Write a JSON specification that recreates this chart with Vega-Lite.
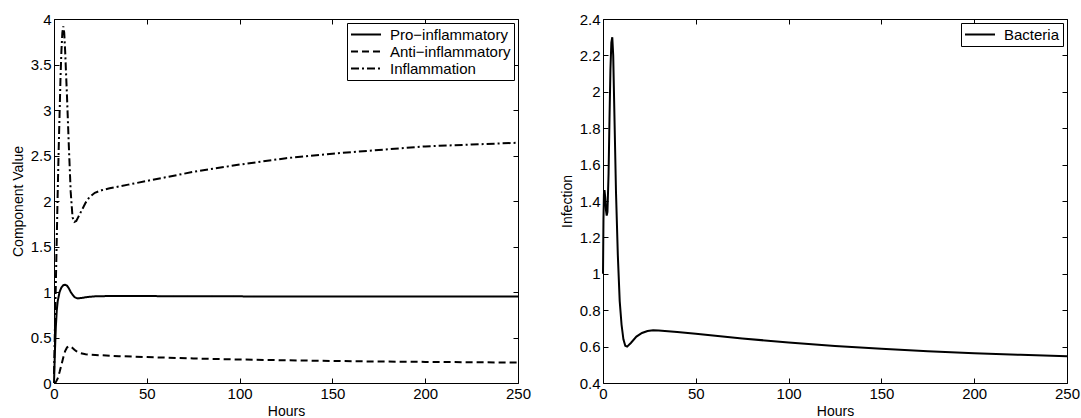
{
  "$schema": "https://vega.github.io/schema/vega-lite/v6.json",
  "padding": {"left": 10, "top": 11, "right": 5, "bottom": 0},
  "background": "white",
  "spacing": 85,
  "bounds": "flush",
  "datasets": {
    "left": [
      {"t": 0, "v": 0, "s": "Pro−inflammatory"}, {"t": 0.5, "v": 0.35, "s": "Pro−inflammatory"}, {"t": 1, "v": 0.62, "s": "Pro−inflammatory"}, {"t": 1.5, "v": 0.8, "s": "Pro−inflammatory"}, {"t": 2, "v": 0.9, "s": "Pro−inflammatory"}, {"t": 3, "v": 1.0, "s": "Pro−inflammatory"}, {"t": 4, "v": 1.05, "s": "Pro−inflammatory"}, {"t": 5, "v": 1.075, "s": "Pro−inflammatory"}, {"t": 6, "v": 1.08, "s": "Pro−inflammatory"}, {"t": 7, "v": 1.07, "s": "Pro−inflammatory"}, {"t": 8, "v": 1.04, "s": "Pro−inflammatory"}, {"t": 9, "v": 1.0, "s": "Pro−inflammatory"}, {"t": 10, "v": 0.97, "s": "Pro−inflammatory"}, {"t": 11, "v": 0.945, "s": "Pro−inflammatory"}, {"t": 12, "v": 0.935, "s": "Pro−inflammatory"}, {"t": 13, "v": 0.93, "s": "Pro−inflammatory"}, {"t": 15, "v": 0.935, "s": "Pro−inflammatory"}, {"t": 18, "v": 0.945, "s": "Pro−inflammatory"}, {"t": 22, "v": 0.952, "s": "Pro−inflammatory"}, {"t": 30, "v": 0.956, "s": "Pro−inflammatory"}, {"t": 50, "v": 0.955, "s": "Pro−inflammatory"}, {"t": 100, "v": 0.952, "s": "Pro−inflammatory"}, {"t": 150, "v": 0.95, "s": "Pro−inflammatory"}, {"t": 200, "v": 0.95, "s": "Pro−inflammatory"}, {"t": 250, "v": 0.95, "s": "Pro−inflammatory"},
      {"t": 0, "v": 0, "s": "Anti−inflammatory"}, {"t": 1, "v": 0.01, "s": "Anti−inflammatory"}, {"t": 2, "v": 0.05, "s": "Anti−inflammatory"}, {"t": 3, "v": 0.12, "s": "Anti−inflammatory"}, {"t": 4, "v": 0.2, "s": "Anti−inflammatory"}, {"t": 5, "v": 0.28, "s": "Anti−inflammatory"}, {"t": 6, "v": 0.35, "s": "Anti−inflammatory"}, {"t": 7, "v": 0.39, "s": "Anti−inflammatory"}, {"t": 8, "v": 0.405, "s": "Anti−inflammatory"}, {"t": 9, "v": 0.4, "s": "Anti−inflammatory"}, {"t": 10, "v": 0.385, "s": "Anti−inflammatory"}, {"t": 11, "v": 0.365, "s": "Anti−inflammatory"}, {"t": 12, "v": 0.35, "s": "Anti−inflammatory"}, {"t": 14, "v": 0.33, "s": "Anti−inflammatory"}, {"t": 17, "v": 0.315, "s": "Anti−inflammatory"}, {"t": 20, "v": 0.31, "s": "Anti−inflammatory"}, {"t": 25, "v": 0.305, "s": "Anti−inflammatory"}, {"t": 35, "v": 0.295, "s": "Anti−inflammatory"}, {"t": 50, "v": 0.285, "s": "Anti−inflammatory"}, {"t": 75, "v": 0.27, "s": "Anti−inflammatory"}, {"t": 100, "v": 0.258, "s": "Anti−inflammatory"}, {"t": 125, "v": 0.25, "s": "Anti−inflammatory"}, {"t": 150, "v": 0.242, "s": "Anti−inflammatory"}, {"t": 175, "v": 0.236, "s": "Anti−inflammatory"}, {"t": 200, "v": 0.232, "s": "Anti−inflammatory"}, {"t": 225, "v": 0.228, "s": "Anti−inflammatory"}, {"t": 250, "v": 0.225, "s": "Anti−inflammatory"},
      {"t": 0, "v": 0.1, "s": "Inflammation"}, {"t": 0.5, "v": 0.6, "s": "Inflammation"}, {"t": 1, "v": 1.1, "s": "Inflammation"}, {"t": 1.5, "v": 1.6, "s": "Inflammation"}, {"t": 2, "v": 2.1, "s": "Inflammation"}, {"t": 2.5, "v": 2.55, "s": "Inflammation"}, {"t": 3, "v": 2.95, "s": "Inflammation"}, {"t": 3.5, "v": 3.35, "s": "Inflammation"}, {"t": 4, "v": 3.65, "s": "Inflammation"}, {"t": 4.5, "v": 3.85, "s": "Inflammation"}, {"t": 5, "v": 3.92, "s": "Inflammation"}, {"t": 5.5, "v": 3.85, "s": "Inflammation"}, {"t": 6, "v": 3.65, "s": "Inflammation"}, {"t": 7, "v": 3.15, "s": "Inflammation"}, {"t": 8, "v": 2.6, "s": "Inflammation"}, {"t": 9, "v": 2.1, "s": "Inflammation"}, {"t": 10, "v": 1.82, "s": "Inflammation"}, {"t": 11, "v": 1.77, "s": "Inflammation"}, {"t": 12, "v": 1.78, "s": "Inflammation"}, {"t": 13, "v": 1.82, "s": "Inflammation"}, {"t": 15, "v": 1.9, "s": "Inflammation"}, {"t": 17, "v": 1.98, "s": "Inflammation"}, {"t": 19, "v": 2.04, "s": "Inflammation"}, {"t": 22, "v": 2.09, "s": "Inflammation"}, {"t": 26, "v": 2.12, "s": "Inflammation"}, {"t": 30, "v": 2.14, "s": "Inflammation"}, {"t": 40, "v": 2.18, "s": "Inflammation"}, {"t": 50, "v": 2.22, "s": "Inflammation"}, {"t": 60, "v": 2.26, "s": "Inflammation"}, {"t": 75, "v": 2.32, "s": "Inflammation"}, {"t": 100, "v": 2.4, "s": "Inflammation"}, {"t": 125, "v": 2.47, "s": "Inflammation"}, {"t": 150, "v": 2.52, "s": "Inflammation"}, {"t": 175, "v": 2.56, "s": "Inflammation"}, {"t": 200, "v": 2.6, "s": "Inflammation"}, {"t": 225, "v": 2.62, "s": "Inflammation"}, {"t": 250, "v": 2.64, "s": "Inflammation"}
    ],
    "right": [
      {"t": 0, "v": 1.0, "b": "Bacteria"}, {"t": 0.25, "v": 1.3, "b": "Bacteria"}, {"t": 0.5, "v": 1.44, "b": "Bacteria"}, {"t": 0.8, "v": 1.46, "b": "Bacteria"}, {"t": 1.2, "v": 1.42, "b": "Bacteria"}, {"t": 1.6, "v": 1.35, "b": "Bacteria"}, {"t": 2, "v": 1.32, "b": "Bacteria"}, {"t": 2.4, "v": 1.34, "b": "Bacteria"}, {"t": 3, "v": 1.55, "b": "Bacteria"}, {"t": 3.5, "v": 1.85, "b": "Bacteria"}, {"t": 4, "v": 2.12, "b": "Bacteria"}, {"t": 4.5, "v": 2.27, "b": "Bacteria"}, {"t": 5, "v": 2.3, "b": "Bacteria"}, {"t": 5.5, "v": 2.2, "b": "Bacteria"}, {"t": 6, "v": 1.95, "b": "Bacteria"}, {"t": 7, "v": 1.45, "b": "Bacteria"}, {"t": 8, "v": 1.1, "b": "Bacteria"}, {"t": 9, "v": 0.85, "b": "Bacteria"}, {"t": 10, "v": 0.72, "b": "Bacteria"}, {"t": 11, "v": 0.64, "b": "Bacteria"}, {"t": 12, "v": 0.605, "b": "Bacteria"}, {"t": 13, "v": 0.6, "b": "Bacteria"}, {"t": 15, "v": 0.62, "b": "Bacteria"}, {"t": 18, "v": 0.655, "b": "Bacteria"}, {"t": 21, "v": 0.675, "b": "Bacteria"}, {"t": 24, "v": 0.686, "b": "Bacteria"}, {"t": 27, "v": 0.69, "b": "Bacteria"}, {"t": 30, "v": 0.689, "b": "Bacteria"}, {"t": 40, "v": 0.68, "b": "Bacteria"}, {"t": 50, "v": 0.67, "b": "Bacteria"}, {"t": 75, "v": 0.645, "b": "Bacteria"}, {"t": 100, "v": 0.622, "b": "Bacteria"}, {"t": 125, "v": 0.603, "b": "Bacteria"}, {"t": 150, "v": 0.588, "b": "Bacteria"}, {"t": 175, "v": 0.575, "b": "Bacteria"}, {"t": 200, "v": 0.564, "b": "Bacteria"}, {"t": 225, "v": 0.555, "b": "Bacteria"}, {"t": 250, "v": 0.547, "b": "Bacteria"}
    ]
  },
  "hconcat": [
    {
      "width": 464,
      "height": 364,
      "data": {"name": "left"},
      "layer": [
        {
          "mark": {"type": "line", "color": "black", "strokeWidth": 2},
          "encoding": {
            "x": {"field": "t", "type": "quantitative", "scale": {"domain": [0, 250], "nice": false}, "axis": {"title": "Hours", "values": [0, 50, 100, 150, 200, 250]}},
            "y": {"field": "v", "type": "quantitative", "scale": {"domain": [0, 4], "nice": false}, "axis": {"title": "Component Value", "values": [0, 0.5, 1, 1.5, 2, 2.5, 3, 3.5, 4], "format": "~g"}},
            "strokeDash": {"field": "s", "type": "nominal", "sort": ["Pro−inflammatory", "Anti−inflammatory", "Inflammation"], "scale": {"domain": ["Pro−inflammatory", "Anti−inflammatory", "Inflammation"], "range": [[1, 0], [7, 4], [8, 3, 2, 3]]}, "legend": {"title": null}},
            "order": {"field": "t", "type": "quantitative"}
          }
        },
        {
          "mark": {"type": "point", "opacity": 0},
          "encoding": {
            "x": {"field": "t", "type": "quantitative", "axis": {"orient": "top", "labels": false, "title": null, "values": [0, 50, 100, 150, 200, 250]}},
            "y": {"field": "v", "type": "quantitative", "axis": {"orient": "right", "labels": false, "title": null, "values": [0, 0.5, 1, 1.5, 2, 2.5, 3, 3.5, 4]}}
          }
        }
      ],
      "resolve": {"axis": {"x": "independent", "y": "independent"}}
    },
    {
      "width": 464,
      "height": 364,
      "data": {"name": "right"},
      "layer": [
        {
          "mark": {"type": "line", "strokeWidth": 2},
          "encoding": {
            "x": {"field": "t", "type": "quantitative", "scale": {"domain": [0, 250], "nice": false}, "axis": {"title": "Hours", "values": [0, 50, 100, 150, 200, 250]}},
            "y": {"field": "v", "type": "quantitative", "scale": {"domain": [0.4, 2.4], "nice": false}, "axis": {"title": "Infection", "values": [0.4, 0.6, 0.8, 1, 1.2, 1.4, 1.6, 1.8, 2, 2.2, 2.4], "format": "~g"}},
            "color": {"field": "b", "type": "nominal", "scale": {"domain": ["Bacteria"], "range": ["black"]}, "legend": {"title": null}},
            "order": {"field": "t", "type": "quantitative"}
          }
        },
        {
          "mark": {"type": "point", "opacity": 0},
          "encoding": {
            "x": {"field": "t", "type": "quantitative", "axis": {"orient": "top", "labels": false, "title": null, "values": [0, 50, 100, 150, 200, 250]}},
            "y": {"field": "v", "type": "quantitative", "axis": {"orient": "right", "labels": false, "title": null, "values": [0.4, 0.6, 0.8, 1, 1.2, 1.4, 1.6, 1.8, 2, 2.2, 2.4]}}
          }
        }
      ],
      "resolve": {"axis": {"x": "independent", "y": "independent"}}
    }
  ],
  "resolve": {"scale": {"strokeDash": "independent", "color": "independent"}, "legend": {"strokeDash": "independent", "color": "independent"}},
  "config": {
    "font": "Liberation Sans",
    "view": {"stroke": "black", "strokeWidth": 1},
    "axis": {
      "grid": false,
      "domain": false,
      "tickColor": "black",
      "tickSize": -5,
      "tickWidth": 1,
      "labelColor": "black",
      "titleColor": "black",
      "labelFontSize": 15,
      "titleFontSize": 14,
      "titleFontWeight": "normal",
      "labelPadding": 8,
      "labelFlush": false,
      "labelOverlap": false
    },
    "axisY": {"labelPadding": 8, "titlePadding": 5},
    "axisX": {"titlePadding": 3},
    "legend": {
      "orient": "top-right",
      "offset": 4,
      "strokeColor": "black",
      "fillColor": "white",
      "padding": 3,
      "symbolType": "M-1,0H3",
      "symbolSize": 225,
      "symbolStrokeWidth": 2,
      "symbolStrokeColor": "black",
      "labelOffset": 23,
      "labelFontSize": 15,
      "labelColor": "black",
      "rowPadding": 0,
      "cornerRadius": 0
    }
  }
}
